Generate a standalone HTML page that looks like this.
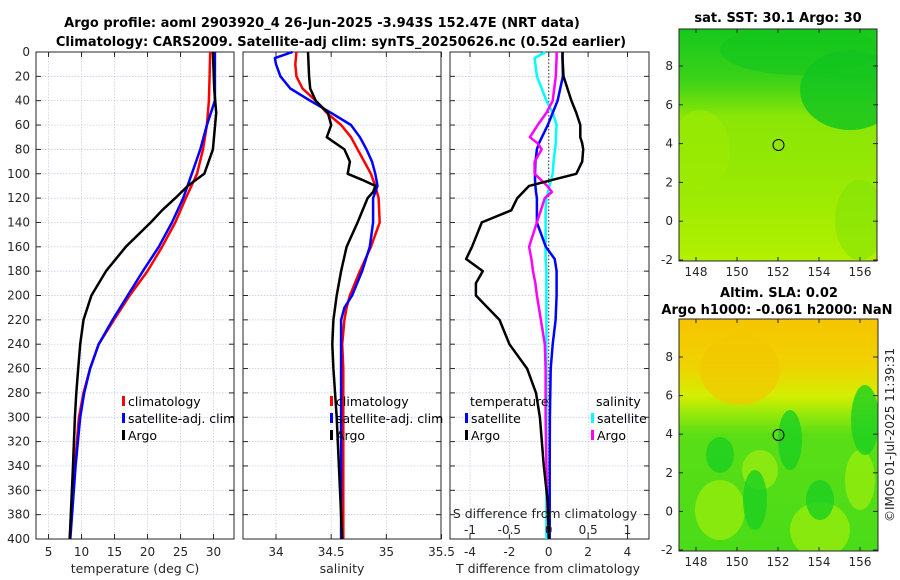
<!DOCTYPE html>
<html><head><meta charset="utf-8"><style>
html,body{margin:0;padding:0;background:#fff;}
svg{display:block;font-family:"DejaVu Sans","Liberation Sans",sans-serif;}
</style></head><body>
<svg id="c" width="900" height="580" viewBox="0 0 900 580">
<defs>
<linearGradient id="g1" x1="0" y1="0" x2="0" y2="1">
<stop offset="0" stop-color="#16c81c"/><stop offset="0.22" stop-color="#3cd218"/><stop offset="0.38" stop-color="#8ae606"/><stop offset="0.6" stop-color="#94e804"/><stop offset="1" stop-color="#b2f000"/></linearGradient>
<linearGradient id="g2" x1="0" y1="0" x2="0" y2="1">
<stop offset="0" stop-color="#f6c400"/><stop offset="0.2" stop-color="#f0d200"/><stop offset="0.33" stop-color="#d4ee00"/><stop offset="0.42" stop-color="#8ee80c"/><stop offset="0.5" stop-color="#5ade16"/><stop offset="1" stop-color="#4adc18"/></linearGradient>
<clipPath id="cm1"><rect x="679" y="29" width="198" height="232"/></clipPath>
<clipPath id="cm2"><rect x="679" y="319" width="199" height="232"/></clipPath>
</defs>
<text x="322" y="27" text-anchor="middle" font-size="13" font-weight="bold">Argo profile: aoml 2903920_4 26-Jun-2025 -3.943S 152.47E (NRT data)</text>
<text x="341" y="46" text-anchor="middle" font-size="13" font-weight="bold">Climatology: CARS2009. Satellite-adj clim: synTS_20250626.nc (0.52d earlier)</text>
<g id="p1"></g>
<g id="p2"></g>
<g id="p3"></g>
<g id="m1">
<text x="778" y="22" text-anchor="middle" font-size="13" font-weight="bold">sat. SST: 30.1 Argo: 30</text>
<g clip-path="url(#cm1)">
<rect x="679" y="29" width="198" height="232" fill="url(#g1)"/>
<ellipse cx="850" cy="90" rx="50" ry="40" fill="#10c420" opacity="0.8"/>
<ellipse cx="800" cy="50" rx="80" ry="25" fill="#12c41e" opacity="0.6"/>
<ellipse cx="700" cy="150" rx="30" ry="40" fill="#a0ec02" opacity="0.5"/>
<ellipse cx="860" cy="220" rx="25" ry="40" fill="#7ce208" opacity="0.5"/>
</g>
<rect x="679" y="29" width="198" height="232" fill="none" stroke="#262626"/>
<circle cx="778.5" cy="145" r="5.5" fill="none" stroke="#000"/>
</g>
<g id="m2">
<text x="779" y="297" text-anchor="middle" font-size="13" font-weight="bold">Altim. SLA: 0.02</text>
<text x="777" y="314" text-anchor="middle" font-size="13" font-weight="bold">Argo h1000: -0.061 h2000: NaN</text>
<g clip-path="url(#cm2)">
<rect x="679" y="319" width="199" height="232" fill="url(#g2)"/>
<ellipse cx="740" cy="370" rx="40" ry="35" fill="#f2c800" opacity="0.7"/>
<ellipse cx="720" cy="510" rx="25" ry="30" fill="#96ec0c" opacity="0.8"/>
<ellipse cx="820" cy="530" rx="30" ry="28" fill="#96ec0c" opacity="0.8"/>
<ellipse cx="860" cy="480" rx="15" ry="30" fill="#96ec0c" opacity="0.8"/>
<ellipse cx="760" cy="470" rx="18" ry="20" fill="#a0ee10" opacity="0.7"/>
<ellipse cx="790" cy="440" rx="12" ry="30" fill="#1cd020" opacity="0.8"/>
<ellipse cx="755" cy="500" rx="12" ry="30" fill="#1cd020" opacity="0.8"/>
<ellipse cx="820" cy="500" rx="14" ry="20" fill="#1cd020" opacity="0.8"/>
<ellipse cx="865" cy="420" rx="14" ry="35" fill="#1cd020" opacity="0.8"/>
<ellipse cx="720" cy="455" rx="14" ry="18" fill="#1cd020" opacity="0.8"/>
</g>
<rect x="679" y="319" width="199" height="232" fill="none" stroke="#262626"/>
<circle cx="778.5" cy="435" r="5.5" fill="none" stroke="#000"/>
</g>
<text transform="translate(894,435) rotate(-90)" text-anchor="middle" font-size="12" fill="#262626">©IMOS 01-Jul-2025 11:39:31</text>
</svg>
<script>
// ---- data ----
const depthT = [0,20,40,60,80,100,120,140,160,180,200,220,240,260,280,300,340,400];
const tempClim = [29.5,29.4,29.3,29.0,28.4,27.5,25.8,24.2,22.2,20.0,17.3,14.9,12.6,11.3,10.3,9.6,9.0,8.2];
const tempSat = [30.2,30.2,30.2,29.0,28.0,26.7,25.4,23.7,21.7,19.3,17.0,14.7,12.6,11.3,10.4,9.8,9.1,8.3];
const depthArgoT = [0,30,50,80,100,110,120,130,140,160,180,200,220,240,260,280,300,340,400];
const tempArgo = [29.9,30.1,30.4,29.9,28.6,26.1,24.2,22.2,20.5,16.7,13.7,11.5,10.3,9.8,9.5,9.2,9.0,8.7,8.2];
const depthS = [0,5,10,20,30,40,50,60,70,80,90,100,110,120,140,160,180,200,210,220,240,260,300,400];
const salClim = [34.185,34.18,34.175,34.185,34.24,34.36,34.46,34.59,34.68,34.74,34.8,34.86,34.9,34.93,34.94,34.86,34.76,34.67,34.64,34.62,34.6,34.61,34.61,34.61];
const salSat = [34.15,33.99,34.0,34.04,34.13,34.31,34.5,34.68,34.76,34.82,34.87,34.9,34.92,34.88,34.88,34.85,34.78,34.69,34.62,34.59,34.59,34.59,34.59,34.59];
const depthArgoS = [0,20,30,40,50,60,70,80,90,100,105,110,115,120,140,160,180,200,220,240,260,300,340,400];
const salArgo = [34.29,34.3,34.31,34.36,34.47,34.5,34.46,34.62,34.67,34.65,34.78,34.9,34.88,34.83,34.74,34.64,34.59,34.55,34.52,34.51,34.52,34.55,34.57,34.6];
const depthD = [0,5,20,40,50,60,70,75,80,90,100,105,110,115,120,130,140,160,170,180,190,200,220,240,260,280,300,340,370,400];
const dTsat = [0.7,0.7,0.72,0.45,0.2,-0.05,-0.35,-0.5,-0.6,-0.68,-0.7,-0.7,-0.68,-0.65,-0.6,-0.6,-0.6,-0.15,0.3,0.4,0.4,0.4,0.35,0.2,0.1,0.08,0.06,0.05,0.05,0.05];
const dSsat = [-0.04,-0.18,-0.15,-0.03,0.05,0.1,0.09,0.09,0.08,0.06,0.05,0.03,0.01,-0.01,-0.03,-0.04,-0.04,-0.04,-0.04,-0.03,-0.03,-0.03,-0.03,-0.03,-0.03,-0.03,-0.03,-0.03,-0.03,-0.03];
const dSargo = [0.1,0.1,0.09,0.05,-0.03,-0.14,-0.24,-0.14,-0.09,-0.18,-0.18,-0.1,-0.02,0.04,-0.05,-0.1,-0.15,-0.25,-0.22,-0.2,-0.17,-0.15,-0.1,-0.05,-0.04,-0.04,-0.04,-0.03,-0.02,0.0];
const dTargo = [0.7,0.7,0.75,1.15,1.4,1.6,1.6,1.7,1.75,1.7,1.4,0.2,-1.0,-1.3,-1.6,-1.9,-3.4,-3.9,-4.2,-3.35,-3.7,-3.7,-2.5,-2.0,-1.1,-0.65,-0.45,-0.25,-0.05,0.0];
const depthTicks = [0,20,40,60,80,100,120,140,160,180,200,220,240,260,280,300,320,340,360,380,400];
const tempTicks = [5,10,15,20,25,30];
const salTicks = [34,34.5,35,35.5];
const tdTicks = [-4,-2,0,2,4];
const sdTicks = [-1,-0.5,0,0.5,1];
const latTicks = [8,6,4,2,0,-2];
const lonTicks = [148,150,152,154,156];

const NS='http://www.w3.org/2000/svg';
const svg=document.getElementById('c');
function mk(tag,attrs,parent){const e=document.createElementNS(NS,tag);for(const k in attrs)e.setAttribute(k,attrs[k]);(parent||svg).appendChild(e);return e;}
const top0=52, bot0=539;
const yD = d => top0 + d*(bot0-top0)/400;
function lin(d0,d1,r0,r1){return v=>r0+(v-d0)*(r1-r0)/(d1-d0);}

function panel(g,x0,x1,xs,xticks,fmt,name){
  depthTicks.forEach(d=>{const l=mk('line',{x1:x0,x2:x1,y1:yD(d),y2:yD(d),stroke:'#b8c4ec','stroke-width':0.7,'stroke-dasharray':'1.5,1.5'},g);
  
  });
  xticks.forEach(v=>{const x=xs(v);if(x<x0||x>x1)return;const l=mk('line',{x1:x,x2:x,y1:top0,y2:bot0,stroke:'#c4c4ec','stroke-width':0.7,'stroke-dasharray':'1.5,1.5'},g);
  
  });
  const f=mk('rect',{x:x0,y:top0,width:x1-x0,height:bot0-top0,fill:'none',stroke:'#262626','stroke-width':1},g);
  
  
  depthTicks.forEach(d=>{mk('line',{x1:x0,x2:x0+5,y1:yD(d),y2:yD(d),stroke:'#262626'},g);mk('line',{x1:x1-5,x2:x1,y1:yD(d),y2:yD(d),stroke:'#262626'},g);});
  xticks.forEach(v=>{const x=xs(v);if(x<x0-1||x>x1+1)return;mk('line',{x1:x,x2:x,y1:bot0,y2:bot0-5,stroke:'#262626'},g);mk('line',{x1:x,x2:x,y1:top0,y2:top0+5,stroke:'#262626'},g);
   const t=mk('text',{x:x,y:556,'text-anchor':'middle','font-size':12,fill:'#262626'},g);t.textContent=fmt(v);
   
   });
}
function line(g,xs,vals,depths,color,w,name){
  const pts=vals.map((v,i)=>xs(v).toFixed(1)+','+yD(depths[i]).toFixed(1)).join(' ');
  const p=mk('polyline',{points:pts,fill:'none',stroke:color,'stroke-width':w,'stroke-linejoin':'round'},g);
  
  
}
function txt(g,x,y,s,name,extra){const t=mk('text',Object.assign({x:x,y:y,'font-size':12.5,fill:'#000'},extra||{}),g);t.textContent=s;
  
  return t;}
function leg(g,x,y,color,label,name){const r=mk('rect',{x:x,y:y-10,width:3,height:10,fill:color},g);
  
  
  txt(g,x+6,y,label,name);}

// panel 1
const g1=document.getElementById('p1');
const xT=lin(3.1,33.1,36,234);
panel(g1,36,234,xT,tempTicks,v=>String(v),'temperature-panel');
depthTicks.forEach(d=>{const t=mk('text',{x:30,y:yD(d)+4,'text-anchor':'end','font-size':12,fill:'#262626'},g1);t.textContent=d;
  
  });
line(g1,xT,tempClim,depthT,'#ff0000',2.5,'temp-climatology-line');
line(g1,xT,tempSat,depthT,'#0000ff',2.5,'temp-satellite-line');
line(g1,xT,tempArgo,depthArgoT,'#000000',2.5,'temp-argo-line');
txt(g1,135,573,'temperature (deg C)','temperature-axis-title',{'text-anchor':'middle','font-size':12.5,fill:'#262626'});
leg(g1,122,406,'#ff0000','climatology','temp-legend-climatology');
leg(g1,122,423,'#0000ff','satellite-adj. clim','temp-legend-satellite');
leg(g1,122,440,'#000000','Argo','temp-legend-argo');

// panel 2
const g2=document.getElementById('p2');
const xS=lin(34,35.5,276,441.5);
panel(g2,243,441,xS,salTicks,v=>String(v),'salinity-panel');
line(g2,xS,salClim,depthS,'#ff0000',2.5,'sal-climatology-line');
line(g2,xS,salSat,depthS,'#0000ff',2.5,'sal-satellite-line');
line(g2,xS,salArgo,depthArgoS,'#000000',2.5,'sal-argo-line');
txt(g2,342,573,'salinity','salinity-axis-title',{'text-anchor':'middle','font-size':12.5,fill:'#262626'});
leg(g2,330,406,'#ff0000','climatology','sal-legend-climatology');
leg(g2,330,423,'#0000ff','satellite-adj. clim','sal-legend-satellite');
leg(g2,330,440,'#000000','Argo','sal-legend-argo');

// panel 3
const g3=document.getElementById('p3');
const xDT=lin(-4,4,470,627.5);
const xDS=lin(-1,1,470,627.5);
panel(g3,450,649,xDT,tdTicks,v=>String(v),'difference-panel');
const zl=mk('line',{x1:xDT(0),x2:xDT(0),y1:top0,y2:bot0,stroke:'#333','stroke-width':1,'stroke-dasharray':'1.5,2'},g3);


line(g3,xDS,dSsat,depthD,'#00ffff',2.5,'sdiff-satellite-line');
line(g3,xDT,dTsat,depthD,'#0000ff',2.5,'tdiff-satellite-line');
line(g3,xDS,dSargo,depthD,'#ff00ff',2.5,'sdiff-argo-line');
line(g3,xDT,dTargo,depthD,'#000000',2.5,'tdiff-argo-line');
sdTicks.forEach(v=>{const t=mk('text',{x:xDS(v),y:534,'text-anchor':'middle','font-size':12,fill:'#262626'},g3);t.textContent=String(v);
  
  });
txt(g3,545,518,'S difference from climatology','s-diff-axis-title',{'text-anchor':'middle','font-size':12.5,fill:'#262626'});
txt(g3,548,573,'T difference from climatology','t-diff-axis-title',{'text-anchor':'middle','font-size':12.5,fill:'#262626'});
txt(g3,470,406,'temperature','tdiff-legend-title');
txt(g3,596,406,'salinity','sdiff-legend-title');
leg(g3,465,423,'#0000ff','satellite','tdiff-legend-satellite');
leg(g3,465,440,'#000000','Argo','tdiff-legend-argo');
leg(g3,591,423,'#00ffff','satellite','sdiff-legend-satellite');
leg(g3,591,440,'#ff00ff','Argo','sdiff-legend-argo');

// maps axes
function mapAxes(gid,y0,y1,lat8,latm2,label){
  const g=document.getElementById(gid);
  const ly=lin(8,-2,lat8,latm2), lx=lin(148,156,696,860);
  latTicks.forEach(v=>{const y=ly(v);mk('line',{x1:679,x2:683,y1:y,y2:y,stroke:'#262626'},g);mk('line',{x1:873,x2:878,y1:y,y2:y,stroke:'#262626'},g);
    const t=mk('text',{x:673,y:y+4,'text-anchor':'end','font-size':12,fill:'#262626'},g);t.textContent=String(v);
    
    });
  lonTicks.forEach(v=>{const x=lx(v);mk('line',{x1:x,x2:x,y1:y1,y2:y1-4,stroke:'#262626'},g);mk('line',{x1:x,x2:x,y1:y0,y2:y0+4,stroke:'#262626'},g);
    const t=mk('text',{x:x,y:y1+15,'text-anchor':'middle','font-size':12,fill:'#262626'},g);t.textContent=String(v);
    
    });
}
mapAxes('m1',29,261,66,260,'sst-map');
mapAxes('m2',319,551,357,550,'sla-map');
</script>
</body></html>
